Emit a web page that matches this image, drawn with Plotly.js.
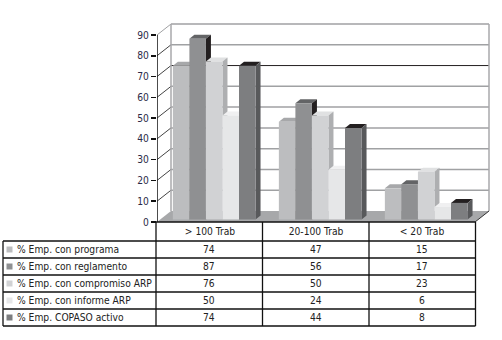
<!DOCTYPE html>
<html><head><meta charset="utf-8">
<script src="https://cdn.plot.ly/plotly-3.0.1.min.js"></script>
<style>html,body{margin:0;padding:0;background:#fff}#c{width:502px;height:340px}</style>
</head><body><div id="c"></div>
<script>
const categories = ['> 100 Trab', '20-100 Trab', '< 20 Trab'];
const seriesNames = ['% Emp. con programa', '% Emp. con reglamento', '% Emp. con compromiso ARP', '% Emp. con informe ARP', '% Emp. COPASO activo'];
const programa = [74, 47, 15];
const reglamento = [87, 56, 17];
const compromiso = [76, 50, 23];
const informe = [50, 24, 6];
const copaso = [74, 44, 8];
const series = [programa, reglamento, compromiso, informe, copaso];
const yTicks = [0, 10, 20, 30, 40, 50, 60, 70, 80, 90];
const frontColors = ['#bcbdbf', '#8f9092', '#d1d2d4', '#e6e7e8', '#7d7e80'];
const topColors = ['#a7a8aa', '#636466', '#e0e1e2', '#f0f0f1', '#231f20'];
const sideColors = ['#8f9092', '#231f20', '#aeafb1', '#bcbdbf', '#58595b'];

const W = 502, H = 340;
const axL = 157, axR = 495, axB = 222, axT = 20;   // plot box in pixels
const catPx = 106, valPx = 187 / 90;
const px = p => p / catPx, vp = p => p / valPx;
const xRange = [-0.5, -0.5 + px(axR - axL)], yRange = [0, vp(axB - axT)];
const groupFrac = 0.78, barW = groupFrac / 5;
const shiftX = px(4.2), shiftY = vp(2.5);
const wallX = px(14), wallY = vp(11);
const depthX = px(5), depthY = vp(4);
const fontF = '"DejaVu Sans Condensed", "DejaVu Sans", Verdana, sans-serif';
const txt = '#222';

const traces = [];
function poly(xs, ys, color) {
  traces.push({type:'scatter', mode:'none', x:xs, y:ys, fill:'toself', fillcolor:color,
    hoverinfo:'skip', showlegend:false, xaxis:'x', yaxis:'y'});
}
function line(xs, ys, color, w) {
  traces.push({type:'scatter', mode:'lines', x:xs, y:ys, line:{color:color, width:w},
    hoverinfo:'skip', showlegend:false, xaxis:'x', yaxis:'y'});
}
const x0 = xRange[0], x1 = x0 + 3;
// back wall gridlines and left wall diagonals
yTicks.forEach(v => {
  if (v === 0) return;
  const c = v === 70 ? '#231f20' : '#a0a1a3';
  line([x0 + wallX, x1 + wallX], [v + wallY, v + wallY], c, v === 70 ? 1 : 1.5);
  line([x0, x0 + wallX], [v, v + wallY], v === 90 ? '#a0a1a3' : '#444', 1);
});
line([x0 + wallX, x0 + wallX], [wallY, 90 + wallY], '#a8a9ab', 1.5);
line([x1 + wallX, x1 + wallX], [wallY, 90 + wallY], '#a8a9ab', 1.5);
// floor
poly([x0, x0 + wallX, x1 + wallX, x1, x0], [0, wallY, wallY, 0, 0], '#a7a8aa');
line([x1, x1 + wallX], [0, wallY], '#333', 1);
// 3D faces, left to right
categories.forEach((_, c) => {
  series.forEach((vals, s) => {
    const l = c - groupFrac / 2 + s * barW + shiftX, r = l + barW, v = vals[c] + shiftY;
    poly([l, l + depthX, r + depthX, r, l], [v, v + depthY, v + depthY, v, v], topColors[s]);
    poly([r, r + depthX, r + depthX, r, r], [shiftY, shiftY + depthY, v + depthY, v, shiftY], sideColors[s]);
  });
});
// y axis line
line([x0, x0], [0, 90], '#111', 1.5);
// front faces
series.forEach((vals, s) => {
  traces.push({type:'bar', name:seriesNames[s], x:[0, 1, 2], y:vals, marker:{color:frontColors[s], line:{width:0}},
    xaxis:'x2', yaxis:'y2', showlegend:false, hoverinfo:'skip'});
});

// table
const rowY = [241, 258, 275, 292, 309, 326];
const colX = [3, 156, 262.5, 369, 475.5];
const shapes = [], annotations = [];
const ln = (a, b, c, d) => shapes.push({type:'line', xref:'paper', yref:'paper', x0:a / W, x1:c / W, y0:1 - b / H, y1:1 - d / H,
  line:{color:'#111', width:1.3}});
ln(colX[1], axB, colX[4], axB);
rowY.forEach(y => ln(colX[0], y, colX[4], y));
colX.forEach((x, i) => ln(x, i === 0 ? rowY[0] : axB, x, rowY[5]));
const tableFont = {family:fontF, size:10.2, color:txt};
seriesNames.forEach((n, s) => {
  const cy = (rowY[s] + rowY[s + 1]) / 2;
  shapes.push({type:'rect', xref:'paper', yref:'paper', x0:6.5 / W, x1:12.5 / W, y0:1 - (cy - 3) / H, y1:1 - (cy + 3) / H,
    fillcolor:frontColors[s], line:{width:0}});
  annotations.push({xref:'paper', yref:'paper', x:15 / W, y:1 - cy / H, xanchor:'left', yanchor:'middle', text:n,
    showarrow:false, font:tableFont});
  categories.forEach((_, c) => {
    annotations.push({xref:'paper', yref:'paper', x:(colX[c + 1] + colX[c + 2]) / 2 / W, y:1 - cy / H, xanchor:'center', yanchor:'middle',
      text:String(series[s][c]), showarrow:false, font:tableFont});
  });
});

const layout = {
  width:W, height:H, margin:{l:0, r:0, t:0, b:0}, paper_bgcolor:'#fff', plot_bgcolor:'#fff',
  barmode:'group', bargap:1 - groupFrac, bargroupgap:0, showlegend:false,
  xaxis:{domain:[axL / W, axR / W], range:xRange, tickmode:'array', tickvals:[0, 1, 2], ticktext:categories,
    ticks:'', showgrid:false, zeroline:false, showline:false, tickfont:{family:fontF, size:10.2, color:txt}, ticklabelstandoff:2},
  yaxis:{domain:[1 - axB / H, 1 - axT / H], range:yRange, tickmode:'array', tickvals:yTicks,
    ticks:'outside', ticklen:5, tickwidth:1.5, tickcolor:'#111', showgrid:false, zeroline:false, showline:false,
    tickfont:{family:fontF, size:10.2, color:'#2a2a48'}},
  xaxis2:{overlaying:'x', anchor:'y2', range:[xRange[0] - shiftX, xRange[1] - shiftX], visible:false},
  yaxis2:{overlaying:'y', anchor:'x2', range:[yRange[0] - shiftY, yRange[1] - shiftY], visible:false},
  shapes, annotations
};
Plotly.newPlot('c', traces, layout, {displayModeBar:false, staticPlot:true});
</script></body></html>
